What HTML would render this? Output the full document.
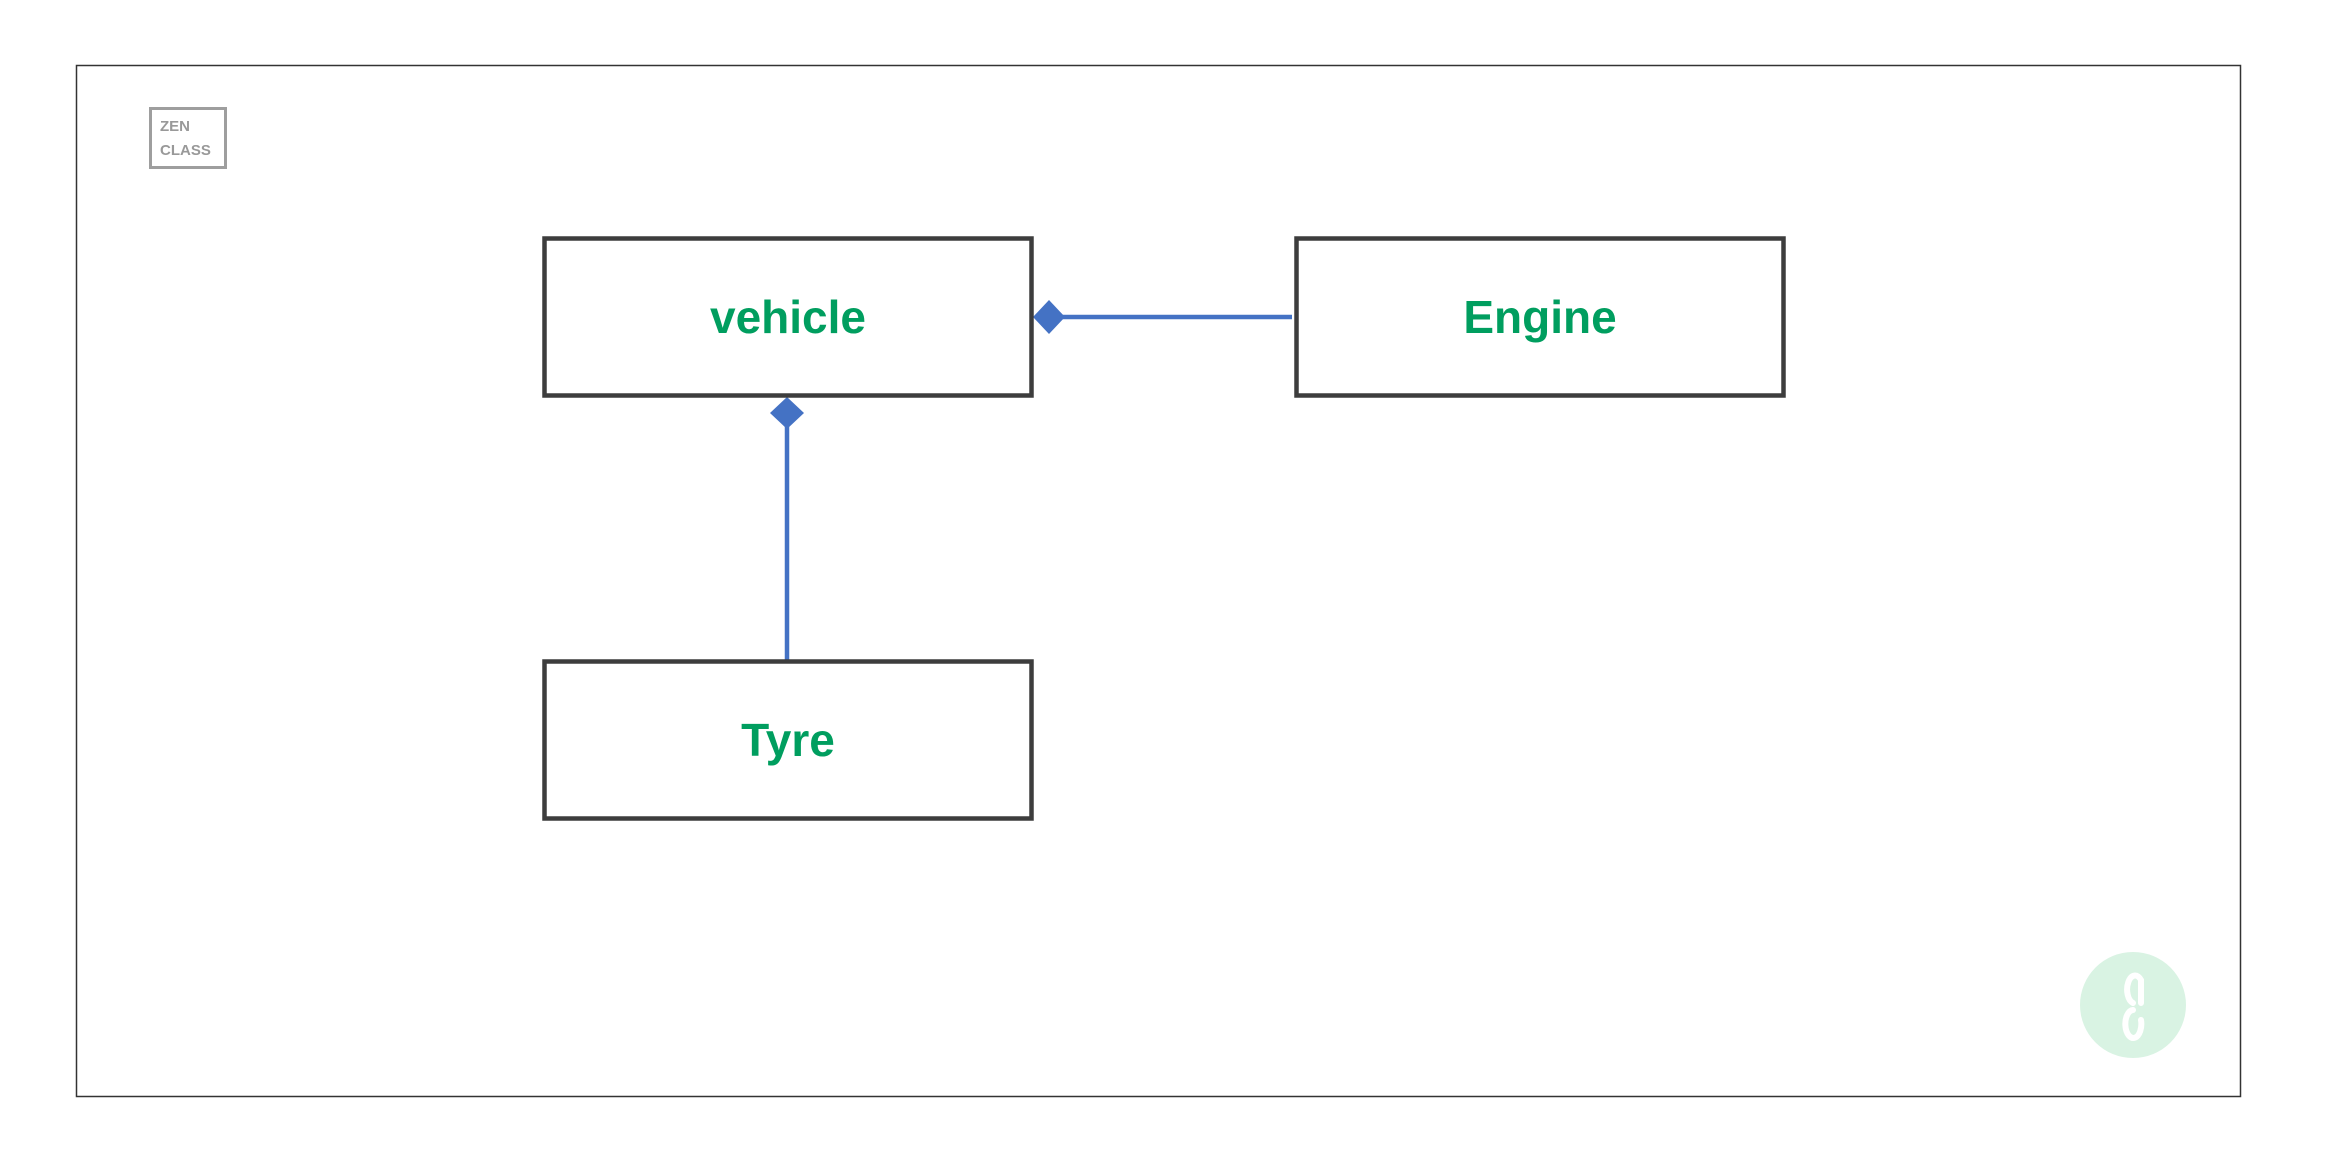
<!DOCTYPE html>
<html><head><meta charset="utf-8"><style>
html,body{margin:0;padding:0;background:#fff;}
body{width:2326px;height:1165px;position:relative;overflow:hidden;font-family:"Liberation Sans",sans-serif;}
</style></head><body>
<svg width="2326" height="1165" viewBox="0 0 2326 1165" xmlns="http://www.w3.org/2000/svg" style="position:absolute;left:0;top:0">
<rect x="76.5" y="65.5" width="2164" height="1031" fill="#fff" stroke="#333" stroke-width="1.5"/>
<rect x="150.5" y="108.5" width="75" height="59" fill="#fff" stroke="#9e9e9e" stroke-width="3"/>
<text x="160" y="131" font-family="Liberation Sans, sans-serif" font-weight="bold" font-size="15" fill="#999">ZEN</text>
<text x="160" y="155" font-family="Liberation Sans, sans-serif" font-weight="bold" font-size="15" fill="#999">CLASS</text>

<line x1="1060" y1="317" x2="1292" y2="317" stroke="#4472c4" stroke-width="4.5"/>
<polygon points="1033,317 1049,300 1065,317 1049,334" fill="#4472c4"/>
<line x1="787" y1="420" x2="787" y2="660" stroke="#4472c4" stroke-width="4.5"/>
<polygon points="787,397 804,413 787,429 770,413" fill="#4472c4"/>

<rect x="544.5" y="238.5" width="487" height="157" fill="#fff" stroke="#3d3d3d" stroke-width="4.5"/>
<rect x="1296.5" y="238.5" width="487" height="157" fill="#fff" stroke="#3d3d3d" stroke-width="4.5"/>
<rect x="544.5" y="661.5" width="487" height="157" fill="#fff" stroke="#3d3d3d" stroke-width="4.5"/>

<text x="788" y="333" text-anchor="middle" font-family="Liberation Sans, sans-serif" font-weight="bold" font-size="46" fill="#009e5f">vehicle</text>
<text x="1540" y="333" text-anchor="middle" font-family="Liberation Sans, sans-serif" font-weight="bold" font-size="46" fill="#009e5f">Engine</text>
<text x="788" y="756" text-anchor="middle" font-family="Liberation Sans, sans-serif" font-weight="bold" font-size="46" fill="#009e5f">Tyre</text>

<circle cx="2133" cy="1005" r="53" fill="#d9f3e3"/>
<path d="M2141,1003 L2141,980 A8,14 0 1 0 2133,1003 M2133,1010 A8,14 0 1 0 2141,1020" fill="none" stroke="#fff" stroke-width="6" stroke-linecap="round"/>
</svg>
</body></html>
